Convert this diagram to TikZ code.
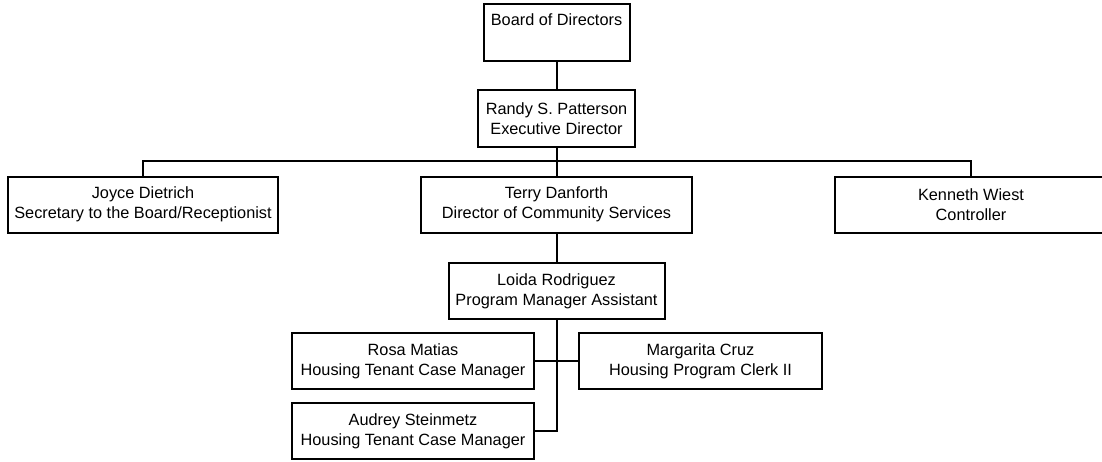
\documentclass[tikz,border=0pt]{standalone}
\usepackage{fontspec}
\setmainfont{Liberation Sans}
\usepackage{tikz}
\usetikzlibrary{positioning,calc}
\tikzset{
  pbox/.style={draw=black,line width=2pt,align=center,inner sep=0pt,minimum height=56pt,font=\fontsize{16.3}{20}\selectfont},
  ln/.style={line width=2pt},
}
\begin{document}
\begin{tikzpicture}[x=1pt,y=-1pt]
  \useasboundingbox (0,0) rectangle (1102,461);
  \node[pbox,minimum width=146pt,minimum height=57pt,
        label={[anchor=north,yshift=-7pt,font=\fontsize{16.3}{20}\selectfont]north:Board of Directors}] (board) at (556.5,32.5) {};
  \node[pbox,minimum width=157pt,minimum height=57pt] (randy) at (556.5,118.5) {Randy S. Patterson\\Executive Director};
  \node[pbox,minimum width=270pt] (joyce) at (143,204.5) {Joyce Dietrich\\Secretary to the Board/Receptionist};
  \node[pbox,minimum width=271pt] (terry) at (556.5,204.5) {Terry Danforth\\Director of Community Services};
  \node[pbox,minimum width=272pt] (kenneth) at (971,204.5) {Kenneth Wiest\\Controller};
  \node[pbox,minimum width=216pt] (loida) at (556.5,291) {Loida Rodriguez\\Program Manager Assistant};
  \node[pbox,minimum width=242pt] (rosa) at (413,361) {Rosa Matias\\Housing Tenant Case Manager};
  \node[pbox,minimum width=243pt] (margarita) at (700.5,361) {Margarita Cruz\\Housing Program Clerk II};
  \node[pbox,minimum width=242pt] (audrey) at (413,431) {Audrey Steinmetz\\Housing Tenant Case Manager};
  \coordinate (bus) at (556.5,160.7);
  % connectors
  \draw[ln] (board) -- (randy);
  \draw[ln] (randy) -- (terry);
  \draw[ln] (joyce.north) |- (bus) -| (kenneth.north);
  \draw[ln] (terry) -- (loida);
  \draw[ln] (loida.south) |- (audrey.east);
  \draw[ln] (rosa.east) -- (margarita.west);
\end{tikzpicture}
\end{document}
